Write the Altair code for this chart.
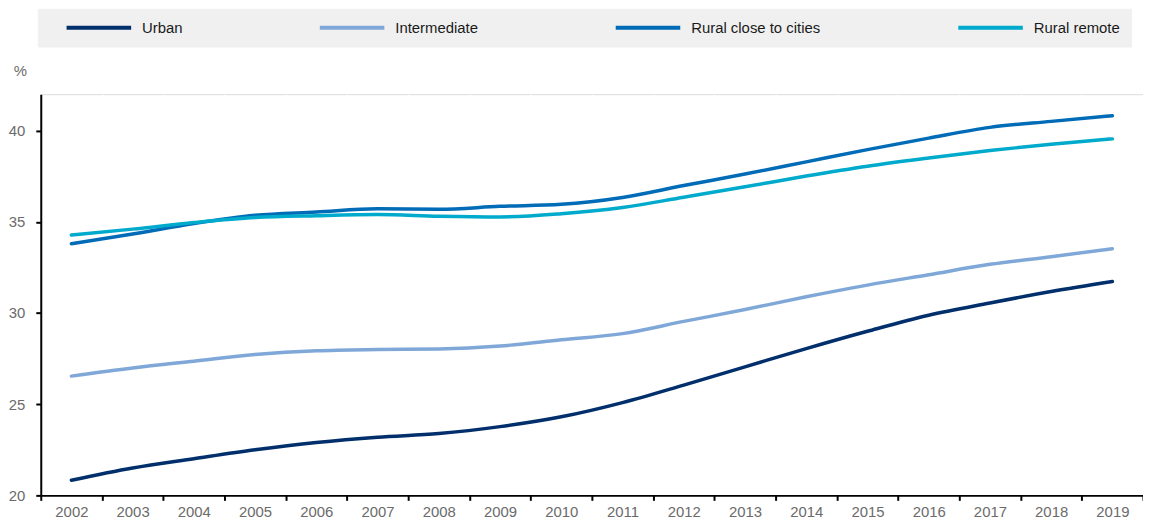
import altair as alt
import pandas as pd

years = [str(y) for y in range(2002, 2020)]
urban = [20.83, 21.50, 22.01, 22.50, 22.90, 23.19, 23.39, 23.77, 24.31,
         25.09, 26.05, 27.05, 28.05, 29.00, 29.88, 30.55, 31.18, 31.73]
intermediate = [26.54, 26.99, 27.36, 27.72, 27.93, 28.00, 28.03, 28.19, 28.53,
                28.87, 29.54, 30.19, 30.89, 31.53, 32.10, 32.67, 33.09, 33.53]
rural_close = [33.80, 34.33, 34.91, 35.36, 35.54, 35.72, 35.69, 35.85, 35.96,
               36.34, 36.99, 37.62, 38.29, 38.96, 39.59, 40.18, 40.51, 40.82]
rural_remote = [34.28, 34.60, 34.96, 35.24, 35.34, 35.40, 35.31, 35.27, 35.45,
                35.79, 36.35, 36.92, 37.51, 38.05, 38.50, 38.91, 39.26, 39.55]

series_names = ["Urban", "Intermediate", "Rural close to cities", "Rural remote"]
series_values = [urban, intermediate, rural_close, rural_remote]
colors = ["#002F6C", "#7FA8D9", "#006BB6", "#00AACC"]
y_ticks = [20, 25, 30, 35, 40]

rows = []
for name, vals in zip(series_names, series_values):
    for yr, v in zip(years, vals):
        rows.append({"year": yr, "value": v, "series": name})
df = pd.DataFrame(rows)

FONT = "Liberation Sans, Arial, sans-serif"

chart = alt.Chart(df).mark_line(
    strokeWidth=3.5, interpolate="monotone", strokeCap="round"
).encode(
    x=alt.X("year:O", scale=alt.Scale(type="band", paddingInner=0, paddingOuter=0),
            axis=alt.Axis(title=None, labelAngle=0, tickBand="extent",
                          labelFontSize=15, labelColor="#6b6b6b", labelFont=FONT,
                          domainColor="#000000", domainWidth=2,
                          tickColor="#000000", tickWidth=2, tickSize=5, labelPadding=4,
                          grid=True, gridColor="#ffffff", gridWidth=1.5)),
    y=alt.Y("value:Q", scale=alt.Scale(domain=[20, 42], nice=False, zero=False),
            axis=alt.Axis(title="%", titleAngle=0, titleX=-21, titleY=-24,
                          titleAlign="center", titleBaseline="middle",
                          titleFontSize=15, titleFontWeight="normal", titleColor="#6b6b6b",
                          titleFont=FONT,
                          values=y_ticks, labelFontSize=15, labelColor="#6b6b6b", labelFont=FONT,
                          labelPadding=11,
                          domainColor="#000000", domainWidth=2,
                          tickColor="#000000", tickWidth=2, tickSize=5,
                          grid=True, gridColor="#ffffff", gridWidth=1.5)),
    color=alt.Color("series:N", sort=series_names,
                    scale=alt.Scale(domain=series_names, range=colors),
                    legend=alt.Legend(title=None, orient="none", direction="horizontal",
                                      columns=4, legendX=-3, legendY=-86,
                                      symbolType="stroke", symbolSize=4225,
                                      symbolStrokeWidth=4, symbolOffset=16,
                                      labelOffset=9, clipHeight=16,
                                      columnPadding=120, padding=11,
                                      fillColor="#F0F0F0", strokeColor="#F0F0F0",
                                      labelFontSize=15, labelFont=FONT,
                                      labelColor="#1a1a1a", labelLimit=400)),
    order=alt.Order("year:O"),
).properties(
    width=1110, height=404,
    padding={"left": 33, "top": 85, "right": 0, "bottom": 25},
    autosize=alt.AutoSizeParams(type="none"),
).configure_view(
    fill="#F0F0F0", stroke=None
).configure(
    background="#ffffff"
)

chart.save("out.html", embed_options={"renderer": "svg", "actions": False})
